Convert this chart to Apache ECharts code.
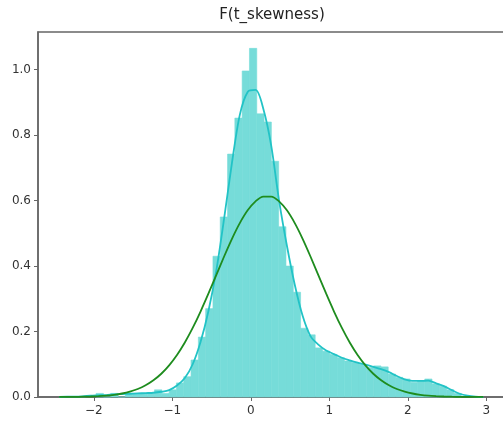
<!DOCTYPE html>
<html>
<head>
    <meta charset="utf-8">
    <style type="text/css">
        html,body { margin: 0px; padding: 0px; height: 100%; background: #fff; overflow: hidden; }
    </style>
    <script src="https://cdn.jsdelivr.net/npm/echarts@6/dist/echarts.min.js"></script>
</head>
<body>
    <!-- a bit wider than the window so the right spine falls just off screen -->
    <div id="canvas1" style="width: 512px; height: 423px;"></div>

    <script type="text/javascript">
        // histogram: 50 bins of equal width
        var histMin = -1.97;
        var binWidth = 0.093;
        var histHeights = [
            0.011, 0, 0.011, 0, 0.011, 0.011, 0.011, 0.011, 0.022, 0.011,
            0.022, 0.043, 0.062, 0.113, 0.183, 0.27, 0.43, 0.55, 0.742, 0.852,
            0.996, 1.065, 0.865, 0.84, 0.72, 0.52, 0.40, 0.32, 0.21, 0.19,
            0.15, 0.14, 0.13, 0.12, 0.11, 0.105, 0.10, 0.09, 0.095, 0.092,
            0.07, 0.06, 0.055, 0.045, 0.05, 0.055, 0.04, 0.033, 0.022, 0.011
        ];

        // x grid shared by both curves
        var curveX = [
            -2.44, -2.34, -2.24, -2.14, -2.04, -1.94, -1.84, -1.74, -1.64, -1.54,
            -1.44, -1.34, -1.24, -1.14, -1.04, -0.94, -0.84, -0.74, -0.64, -0.54,
            -0.44, -0.34, -0.24, -0.14, -0.04, 0.06, 0.16, 0.26, 0.36, 0.46,
            0.56, 0.66, 0.76, 0.86, 0.96, 1.06, 1.16, 1.26, 1.36, 1.46,
            1.56, 1.66, 1.76, 1.86, 1.96, 2.06, 2.16, 2.26, 2.36, 2.46,
            2.56, 2.66, 2.76, 2.86, 2.96
        ];
        // kde curve (cyan)
        var kdeY = [
            0.000, 0.001, 0.001, 0.002, 0.004, 0.005, 0.006, 0.008, 0.009, 0.010,
            0.011, 0.012, 0.013, 0.016, 0.021, 0.035, 0.058, 0.100, 0.168, 0.262,
            0.385, 0.545, 0.715, 0.862, 0.932, 0.938, 0.880, 0.768, 0.600, 0.462,
            0.343, 0.248, 0.186, 0.160, 0.142, 0.131, 0.120, 0.112, 0.105, 0.099,
            0.092, 0.085, 0.076, 0.064, 0.054, 0.049, 0.049, 0.050, 0.042, 0.033,
            0.021, 0.010, 0.004, 0.001, 0.000
        ];
        // fitted normal curve (green)
        var normY = [
            0.0002, 0.0003, 0.0005, 0.0009, 0.0015, 0.0026, 0.0042, 0.0068, 0.0107, 0.0164,
            0.0245, 0.0358, 0.0510, 0.0710, 0.0967, 0.1283, 0.1665, 0.2110, 0.2611, 0.3155,
            0.3724, 0.4292, 0.4832, 0.5311, 0.5702, 0.5978, 0.6122, 0.6122, 0.5978, 0.5702,
            0.5311, 0.4832, 0.4292, 0.3724, 0.3155, 0.2611, 0.2110, 0.1665, 0.1283, 0.0967,
            0.0710, 0.0510, 0.0358, 0.0245, 0.0164, 0.0107, 0.0068, 0.0042, 0.0026, 0.0015,
            0.0009, 0.0005, 0.0003, 0.0002, 0.0001
        ];

        var xTicks = [-2, -1, 0, 1, 2, 3];
        var yTicks = [0, 0.2, 0.4, 0.6, 0.8, 1.0];

        var histData = histHeights.map(function (h, i) {
            return [histMin + i * binWidth, h];
        });
        var kdeData = curveX.map(function (x, i) { return [x, kdeY[i]]; });
        var normData = curveX.map(function (x, i) { return [x, normY[i]]; });

        function renderBar(params, api) {
            var x0 = api.value(0);
            var h = api.value(1);
            var p0 = api.coord([x0, h]);
            var p1 = api.coord([x0 + binWidth, 0]);
            return {
                type: 'rect',
                shape: { x: p0[0], y: p0[1], width: p1[0] - p0[0], height: p1[1] - p0[1] },
                style: { fill: '#76dcd9', stroke: '#76dcd9', lineWidth: 0.6 }
            };
        }

        var myChart1 = echarts.init(document.getElementById("canvas1"));

        var axisColor = '#666';
        var option1 = {
            animation: false,
            title: {
                text: 'F(t_skewness)',
                left: 267, top: 3,
                textAlign: 'center',
                textStyle: { fontFamily: 'DejaVu Sans', fontSize: 15, fontWeight: 'normal', color: '#222' }
            },
            grid: {
                left: 38, right: 6, top: 32, bottom: 26,
                show: true, borderColor: axisColor, borderWidth: 1.5
            },
            xAxis: {
                type: 'value', min: -2.71, max: 3.25,
                axisLine: { onZero: false, lineStyle: { color: axisColor, width: 1.5 } },
                axisTick: { customValues: xTicks, length: 4, lineStyle: { color: axisColor } },
                axisLabel: {
                    customValues: xTicks, margin: 8,
                    fontFamily: 'DejaVu Sans', fontSize: 12, color: '#333',
                    formatter: function (v) { return String(v).replace('-', '\u2212'); }
                },
                splitLine: { show: false }
            },
            yAxis: {
                type: 'value', min: 0, max: 1.115,
                axisLine: { show: true, onZero: false, lineStyle: { color: axisColor, width: 1.5 } },
                axisTick: { show: true, customValues: yTicks, length: 4, lineStyle: { color: axisColor } },
                axisLabel: {
                    customValues: yTicks, margin: 7,
                    fontFamily: 'DejaVu Sans', fontSize: 12, color: '#333',
                    formatter: function (v) { return v.toFixed(1); }
                },
                splitLine: { show: false }
            },
            series: [
                {
                    type: 'custom',
                    renderItem: renderBar,
                    encode: { x: 0, y: 1 },
                    data: histData,
                    z: 1
                },
                {
                    type: 'line',
                    data: kdeData,
                    showSymbol: false,
                    smooth: 0.3,
                    lineStyle: { color: '#22c3c6', width: 1.8 },
                    z: 2
                },
                {
                    type: 'line',
                    data: normData,
                    showSymbol: false,
                    smooth: 0.3,
                    lineStyle: { color: '#1e8c1e', width: 1.8 },
                    z: 3
                }
            ]
        };

        myChart1.setOption(option1);
    </script>
</body>
</html>
